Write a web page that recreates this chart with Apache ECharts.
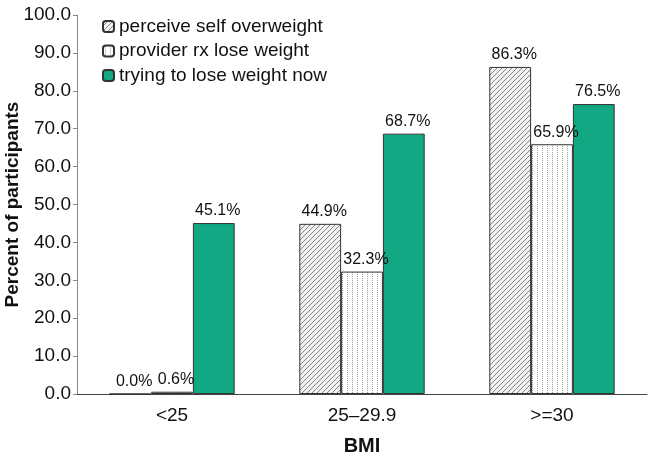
<!DOCTYPE html>
<html>
<head>
<meta charset="utf-8">
<script src="https://cdn.jsdelivr.net/npm/echarts@6/dist/echarts.min.js"></script>
<style>html,body{margin:0;padding:0;background:#fff}#c{width:653px;height:463px}</style>
</head>
<body>
<div id="c"></div>
<script>
var categories = ['<25', '25\u201329.9', '>=30'];
var seriesNames = ['perceive self overweight', 'provider rx lose weight', 'trying to lose weight now'];
var perceiveSelf = [0.0, 44.9, 86.3];
var providerRx = [0.6, 32.3, 65.9];
var tryingNow = [45.1, 68.7, 76.5];
var yTicks = [0, 10, 20, 30, 40, 50, 60, 70, 80, 90, 100];

function hatchPattern() {
  var c = document.createElement('canvas');
  c.width = 5; c.height = 5;
  var g = c.getContext('2d');
  g.fillStyle = '#f2f2f2'; g.fillRect(0, 0, 5, 5);
  g.strokeStyle = '#7a7a7a'; g.lineWidth = 0.9;
  g.beginPath();
  g.moveTo(-1, 6); g.lineTo(6, -1);
  g.moveTo(-1, 1); g.lineTo(1, -1);
  g.moveTo(4, 6); g.lineTo(6, 4);
  g.stroke();
  return c;
}
function dotPattern() {
  var c = document.createElement('canvas');
  c.width = 5; c.height = 2;
  var g = c.getContext('2d');
  g.fillStyle = '#ffffff'; g.fillRect(0, 0, 5, 2);
  g.fillStyle = '#a0a0a0'; g.fillRect(2, 0, 1, 1);
  return c;
}

var chart = echarts.init(document.getElementById('c'));
var labelCfg = {
  show: true, position: 'top', distance: 4, offset: [4, 0],
  color: '#111', fontSize: 16, fontFamily: 'Liberation Sans, Arial, sans-serif',
  formatter: function (p) { return p.value.toFixed(1) + '%'; }
};
function mk(name, data, color) {
  return {
    name: name, type: 'bar', data: data, barGap: '0%', barCategoryGap: '34%',
    itemStyle: { color: color, borderColor: '#333', borderWidth: 1 },
    label: labelCfg
  };
}
chart.setOption({
  animation: false,
  textStyle: { fontFamily: 'Liberation Sans, Arial, sans-serif' },
  grid: { left: 77, right: 6, top: 15, bottom: 69, containLabel: false, outerBoundsMode: 'none' },
  legend: {
    orient: 'vertical', left: 97, top: 12,
    itemWidth: 11, itemHeight: 11, itemGap: 5.5,
    textStyle: { fontSize: 19, color: '#111', lineHeight: 19 },
    data: seriesNames
  },
  xAxis: {
    type: 'category', data: categories,
    axisLine: { lineStyle: { color: '#444' } },
    axisTick: { length: 5, lineStyle: { color: '#444' } },
    axisLabel: { fontSize: 19, color: '#111', margin: 12 },
    name: 'BMI', nameLocation: 'middle', nameGap: 42, nameMoveOverlap: false,
    nameTextStyle: { fontSize: 20, fontWeight: 'bold', color: '#111' }
  },
  yAxis: {
    type: 'value', min: yTicks[0], max: yTicks[yTicks.length - 1], interval: 10,
    splitLine: { show: false },
    axisLine: { show: true, lineStyle: { color: '#888' } },
    axisTick: { show: true, length: 4, lineStyle: { color: '#888' } },
    axisLabel: { fontSize: 19, color: '#111', margin: 6, formatter: function (v) { return v.toFixed(1); } },
    name: 'Percent of participants', nameLocation: 'middle', nameGap: 55, nameMoveOverlap: false,
    nameTextStyle: { fontSize: 19, fontWeight: 'bold', color: '#111' }
  },
  series: [
    mk(seriesNames[0], perceiveSelf, { image: hatchPattern(), repeat: 'repeat' }),
    mk(seriesNames[1], providerRx, { image: dotPattern(), repeat: 'repeat' }),
    mk(seriesNames[2], tryingNow, '#12a884')
  ]
});
</script>
</body>
</html>
